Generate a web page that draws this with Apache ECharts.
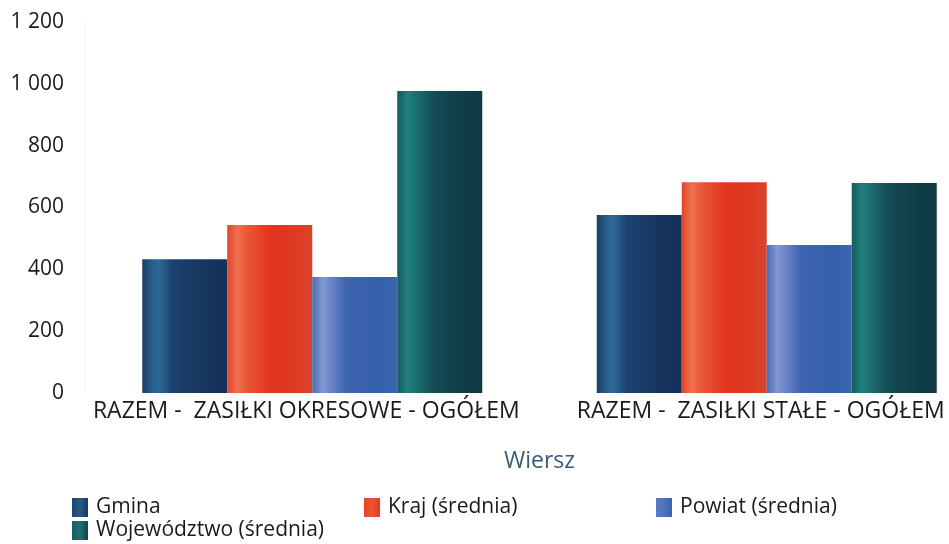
<!DOCTYPE html>
<html><head><meta charset="utf-8">
<script src="https://cdn.jsdelivr.net/npm/echarts@6/dist/echarts.min.js"></script>
<style>html,body{margin:0;padding:0;background:#fff}#c{width:949px;height:544px}</style>
</head><body><div id="c"></div>
<script>
const categories = ['RAZEM -  ZASIŁKI OKRESOWE - OGÓŁEM', 'RAZEM -  ZASIŁKI STAŁE - OGÓŁEM'];
const seriesNames = ['Gmina', 'Kraj (średnia)', 'Powiat (średnia)', 'Województwo (średnia)'];
const gmina = [433, 576];
const kraj = [543, 682];
const powiat = [375, 479];
const wojewodztwo = [977, 679];
const yTicks = [0, 200, 400, 600, 800, 1000, 1200];

const FONT = 'Open Sans';
function grad(stops){
  return new echarts.graphic.LinearGradient(0,0,1,0, stops.map(s=>({offset:s[0],color:s[1]})));
}
const fills = [
  grad([[0,'#1b3d66'],[0.12,'#2a5f8e'],[0.2,'#2c6896'],[0.35,'#1c4370'],[0.7,'#17355f'],[1,'#15315a']]),
  grad([[0,'#e2462a'],[0.12,'#ef7251'],[0.22,'#ea5a38'],[0.5,'#e2341c'],[0.8,'#dd3a22'],[1,'#d9442c']]),
  grad([[0,'#4a6cb4'],[0.12,'#8397d2'],[0.22,'#6a85c6'],[0.4,'#3f65b0'],[0.8,'#3460aa'],[1,'#3a66ae']]),
  grad([[0,'#145a60'],[0.12,'#21807f'],[0.22,'#1b6e70'],[0.45,'#134b54'],[0.8,'#0f3d46'],[1,'#103a44']])
];
const legendFills = [
  grad([[0,'#1d4670'],[0.5,'#2a5a88'],[1,'#183a62']]),
  grad([[0,'#e8432a'],[0.5,'#ea5535'],[1,'#e03a22']]),
  grad([[0,'#5a7cc4'],[0.5,'#4f73bd'],[1,'#3a62ad']]),
  grad([[0,'#1a5a60'],[0.5,'#20706f'],[1,'#134650']])
];
const data = [gmina, kraj, powiat, wojewodztwo];

const chart = echarts.init(document.getElementById('c'));
chart.setOption({
  animation:false,
  textStyle:{fontFamily:FONT},
  grid:{left:85, top:22, width:909, height:371, outerBoundsMode:'none'},
  legend:{
    left:67, top:491, width:900, itemGap:0, itemWidth:16, itemHeight:19,
    icon:'rect',
    data: seriesNames.map((n,i)=>({name:n, itemStyle:{color:legendFills[i]}})),
    textStyle:{fontFamily:FONT, fontSize:21, color:'#1a1a1a', width:268, lineHeight:23, padding:[0,0,0,3]},
    selectedMode:false
  },
  xAxis:{
    type:'category', data:categories,
    axisLine:{show:false}, axisTick:{show:false},
    axisLabel:{fontFamily:FONT, fontSize:23, color:'#1a1a1a', margin:7, interval:0, hideOverlap:false, padding:[0,12,0,0]},
    name:'Wiersz', nameLocation:'middle', nameGap:57,
    nameTextStyle:{fontFamily:FONT, fontSize:23, color:'#3d5a75'}
  },
  yAxis:{
    type:'value', min:0, max:1200, interval:200,
    splitLine:{show:false},
    axisLine:{show:true, lineStyle:{color:'#f3f3f3', width:1}},
    axisTick:{show:false},
    axisLabel:{fontFamily:FONT, fontSize:21, color:'#1a1a1a', margin:21,
      formatter:v=>yTicks.includes(v)? String(v).replace(/\B(?=(\d{3})+(?!\d))/g,' '):''}
  },
  series: seriesNames.map((n,i)=>({
    name:n, type:'bar', data:data[i], barWidth:85, barGap:'0%',
    itemStyle:{color:fills[i]}
  }))
});
</script></body></html>
